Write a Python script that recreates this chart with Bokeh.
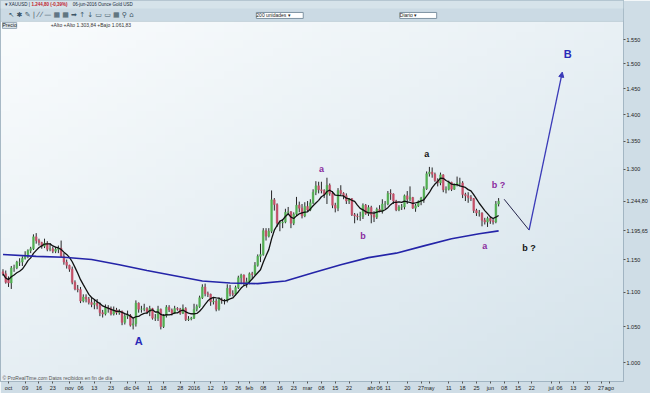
import math
import numpy as np
import pandas as pd
from bokeh.plotting import figure
from bokeh.models import FixedTicker, Label, Arrow, NormalHead, Range1d, ColumnDataSource, BoxAnnotation
from bokeh.core.properties import value
from bokeh.embed import file_html
from bokeh.resources import INLINE

# ---------------- data (XAUUSD daily) ----------------
first_bar = "2015-09-29"
last_bar = "2016-06-06"

opens = [1131, 1128,
         1119, 1114, 1137, 1137, 1146, 1146, 1152, 1156, 1164, 1167,
         1186, 1180, 1177, 1171, 1176, 1166, 1167, 1163, 1166, 1168,
         1155, 1146, 1141, 1135, 1115, 1105, 1104, 1087, 1093, 1090,
         1085, 1082, 1084, 1080, 1070, 1068, 1077, 1076, 1068, 1074,
         1070, 1072, 1056, 1065, 1066, 1052, 1054, 1084, 1075, 1075,
         1076, 1071, 1076, 1062, 1062, 1075, 1050, 1066, 1078, 1074,
         1069, 1076, 1075, 1069, 1076, 1060, 1061, 1062, 1075, 1079,
         1092, 1108, 1098, 1097, 1086, 1087, 1075, 1089, 1088, 1088,
         1106, 1098, 1097, 1107, 1122, 1126, 1114, 1116, 1128, 1127,
         1141, 1155, 1158, 1196, 1187, 1195, 1247, 1239, 1208, 1209,
         1210, 1226, 1227, 1208, 1223, 1238, 1233, 1220, 1236, 1230,
         1242, 1260, 1271, 1264, 1263, 1256, 1272, 1258, 1238, 1233,
         1263, 1258, 1254, 1245, 1249, 1222, 1220, 1219, 1219, 1238,
         1224, 1234, 1222, 1218, 1231, 1228, 1240, 1240, 1258, 1257,
         1245, 1230, 1235, 1235, 1254, 1248, 1251, 1233, 1237, 1244,
         1250, 1266, 1292, 1295, 1291, 1280, 1276, 1290, 1264, 1265,
         1277, 1265, 1273, 1276, 1276, 1256, 1254, 1251, 1249, 1229,
         1225, 1225, 1213, 1210, 1216, 1212, 1210, 1240]

highs = [1135, 1133,
         1124, 1140, 1142, 1148, 1152, 1155, 1163, 1166, 1170, 1190,
         1192, 1183, 1178, 1183, 1179, 1176, 1170, 1170, 1172, 1180,
         1160, 1150, 1142, 1139, 1118, 1111, 1108, 1097, 1097, 1093,
         1092, 1089, 1090, 1085, 1074, 1082, 1081, 1079, 1079, 1077,
         1075, 1073, 1068, 1073, 1068, 1062, 1088, 1085, 1080, 1083,
         1078, 1080, 1077, 1068, 1080, 1076, 1068, 1081, 1081, 1076,
         1080, 1078, 1077, 1082, 1078, 1065, 1064, 1083, 1082, 1095,
         1112, 1113, 1101, 1098, 1093, 1090, 1092, 1092, 1090, 1112,
         1111, 1103, 1110, 1125, 1128, 1127, 1122, 1130, 1131, 1146,
         1158, 1175, 1200, 1200, 1200, 1263, 1250, 1241, 1212, 1215,
         1232, 1235, 1228, 1226, 1252, 1244, 1240, 1243, 1245, 1248,
         1265, 1279, 1278, 1278, 1265, 1285, 1275, 1262, 1242, 1267,
         1272, 1260, 1258, 1250, 1250, 1225, 1224, 1227, 1241, 1240,
         1238, 1237, 1228, 1234, 1238, 1248, 1245, 1262, 1265, 1258,
         1247, 1238, 1240, 1256, 1262, 1270, 1252, 1240, 1246, 1252,
         1270, 1296, 1304, 1303, 1294, 1284, 1294, 1291, 1270, 1280,
         1278, 1275, 1287, 1285, 1279, 1259, 1260, 1255, 1250, 1232,
         1230, 1226, 1217, 1219, 1218, 1216, 1245, 1250]

lows = [1125, 1113,
        1108, 1105, 1131, 1135, 1140, 1140, 1150, 1152, 1160, 1165,
        1175, 1172, 1167, 1168, 1163, 1163, 1160, 1160, 1160, 1154,
        1142, 1136, 1131, 1112, 1103, 1100, 1084, 1085, 1085, 1082,
        1078, 1075, 1075, 1065, 1063, 1066, 1070, 1066, 1066, 1067,
        1067, 1052, 1053, 1061, 1050, 1046, 1050, 1070, 1070, 1072,
        1068, 1065, 1060, 1058, 1058, 1046, 1048, 1063, 1071, 1066,
        1068, 1073, 1067, 1068, 1058, 1058, 1059, 1061, 1072, 1077,
        1090, 1094, 1093, 1080, 1082, 1072, 1073, 1083, 1082, 1085,
        1094, 1094, 1095, 1105, 1112, 1110, 1107, 1112, 1120, 1125,
        1139, 1146, 1156, 1180, 1185, 1192, 1229, 1202, 1195, 1200,
        1208, 1222, 1200, 1205, 1220, 1226, 1216, 1218, 1227, 1228,
        1240, 1255, 1258, 1258, 1250, 1240, 1254, 1233, 1226, 1228,
        1255, 1248, 1240, 1240, 1220, 1208, 1213, 1212, 1215, 1222,
        1220, 1208, 1210, 1215, 1226, 1224, 1232, 1238, 1247, 1240,
        1228, 1228, 1230, 1231, 1240, 1245, 1232, 1227, 1235, 1238,
        1242, 1264, 1287, 1285, 1278, 1270, 1272, 1260, 1258, 1263,
        1262, 1264, 1270, 1270, 1250, 1245, 1242, 1245, 1225, 1220,
        1219, 1203, 1206, 1202, 1207, 1206, 1208, 1236]

closes = [1128, 1115,
          1114, 1137, 1137, 1146, 1146, 1152, 1156, 1164, 1167, 1186,
          1180, 1177, 1171, 1176, 1166, 1167, 1163, 1166, 1168, 1155,
          1146, 1141, 1135, 1115, 1105, 1104, 1087, 1093, 1090, 1085,
          1082, 1084, 1080, 1070, 1068, 1077, 1076, 1068, 1074, 1070,
          1072, 1056, 1065, 1066, 1052, 1054, 1084, 1075, 1075, 1076,
          1071, 1076, 1062, 1062, 1075, 1050, 1066, 1078, 1074, 1069,
          1076, 1075, 1069, 1076, 1060, 1061, 1062, 1075, 1079, 1092,
          1108, 1098, 1097, 1086, 1087, 1075, 1089, 1088, 1088, 1106,
          1098, 1097, 1107, 1122, 1126, 1114, 1116, 1128, 1127, 1141,
          1155, 1158, 1196, 1187, 1195, 1247, 1239, 1208, 1209, 1210,
          1226, 1227, 1208, 1223, 1238, 1233, 1220, 1236, 1230, 1242,
          1260, 1271, 1264, 1263, 1256, 1272, 1258, 1238, 1233, 1263,
          1258, 1254, 1245, 1249, 1222, 1220, 1219, 1219, 1238, 1224,
          1234, 1222, 1218, 1231, 1228, 1240, 1240, 1258, 1257, 1245,
          1230, 1235, 1235, 1254, 1248, 1251, 1233, 1237, 1244, 1250,
          1266, 1292, 1295, 1291, 1280, 1276, 1290, 1264, 1265, 1277,
          1265, 1273, 1276, 1276, 1256, 1254, 1251, 1249, 1229, 1225,
          1225, 1213, 1210, 1216, 1212, 1210, 1240, 1244.8]

# long moving average (blue), read at sample dates
ma_long_dates = ["2015-09-29", "2015-10-15", "2015-10-29", "2015-11-12", "2015-11-26",
                 "2015-12-10", "2015-12-24", "2016-01-07", "2016-01-21", "2016-02-04",
                 "2016-02-18", "2016-03-03", "2016-03-17", "2016-03-31", "2016-04-14",
                 "2016-04-28", "2016-05-12", "2016-05-26", "2016-06-06"]
ma_long_values = [1158, 1155, 1153.5, 1150, 1142, 1133, 1125, 1117, 1114, 1113,
                  1117, 1129.5, 1142, 1153, 1160, 1171.5, 1183, 1191, 1195.65]
ma_short_period = 7

# projected wave drawn by the author
wave_dates = ["2016-06-08", "2016-06-21", "2016-07-07"]
wave_prices = [1248, 1197, 1483]

# wave labels
wave_labels = ["A", "a", "b", "a", "a", "b ?", "b ?", "B"]
wave_label_dates = ["2015-12-07", "2016-03-08", "2016-03-29", "2016-04-29",
                    "2016-05-30", "2016-06-06", "2016-06-21", "2016-07-11"]
wave_label_prices = [1029, 1300, 1187, 1327, 1171, 1272, 1168, 1519]
wave_label_colors = ["#2a2ab8", "#8a2a9e", "#8a2a9e", "#111111",
                     "#8a2a9e", "#8a2a9e", "#111111", "#2a2ab8"]
wave_label_sizes = ["11px", "9px", "9px", "9px", "9px", "9px", "9px", "11px"]

# axis ticks
tick_dates = ["2015-10-01", "2015-10-09", "2015-10-16", "2015-10-23", "2015-11-02",
              "2015-11-06", "2015-11-13", "2015-11-23", "2015-12-01", "2015-12-04",
              "2015-12-11", "2015-12-18", "2015-12-28", "2016-01-04", "2016-01-12",
              "2016-01-19", "2016-01-26", "2016-02-01", "2016-02-08", "2016-02-16",
              "2016-02-23", "2016-03-01", "2016-03-08", "2016-03-15", "2016-03-22",
              "2016-04-01", "2016-04-06", "2016-04-11", "2016-04-20", "2016-04-27",
              "2016-05-02", "2016-05-11", "2016-05-18", "2016-05-25", "2016-06-01",
              "2016-06-08", "2016-06-15", "2016-06-22", "2016-07-01", "2016-07-06",
              "2016-07-13", "2016-07-20", "2016-07-27", "2016-08-01"]
tick_labels = ["oct", "09", "16", "23", "nov", "06", "13", "23", "dic", "04",
               "11", "18", "28", "2016", "12", "19", "26", "feb", "08", "16",
               "23", "mar", "08", "15", "22", "abr", "06", "11", "20", "27",
               "may", "11", "18", "25", "jun", "08", "15", "22", "jul", "06",
               "13", "20", "27", "ago"]
price_ticks = [1000, 1050, 1100, 1150, 1300, 1350, 1400, 1450, 1500, 1550]
last_price = 1244.80
last_ma_long = 1195.65

# ---------------- build ----------------
cal = pd.bdate_range("2015-09-25", "2016-08-31")
pos = {d.strftime("%Y-%m-%d"): i for i, d in enumerate(cal)}
bars = [d.strftime("%Y-%m-%d") for d in pd.bdate_range(first_bar, last_bar)]
xs = [pos[d] for d in bars]

UP, DOWN = "#52b052", "#c64f68"
colors = [UP if c >= o else DOWN for o, c in zip(opens, closes)]
src = ColumnDataSource(dict(x=xs, o=opens, h=highs, l=lows, c=closes, col=colors,
                            top=[max(o, c) for o, c in zip(opens, closes)],
                            bot=[min(o, c) for o, c in zip(opens, closes)]))

FONT = "Liberation Sans"
DX = 2.76
FRAME_W = 621
X0 = pos["2015-10-01"] - 8 / DX
X1 = X0 + FRAME_W / DX
Y_TOP = 1000 * math.exp(363 / 739)
Y_BOT = 1000 * math.exp(-19 / 739)

def py(ypix):
    return 1000 * math.exp((363 - ypix) / 739)

def px(xpix):
    return X0 + xpix / DX

p = figure(width=650, height=393, y_axis_type="log", y_axis_location="right",
           x_range=Range1d(X0, X1), y_range=Range1d(Y_BOT, Y_TOP),
           output_backend="svg", toolbar_location=None,
           min_border_left=0, min_border_right=23, min_border_top=0, min_border_bottom=11)
p.background_fill_color = "#eef4f7"
p.border_fill_color = "#cfdde6"
p.outline_line_color = "#8ea4b4"
p.grid.grid_line_color = None

# soft background gradient of the chart pane
GH, GW = 48, 64
img = np.empty((GH, GW), dtype=np.uint32)
view = img.view(dtype=np.uint8).reshape((GH, GW, 4))
c_tl = np.array([251, 253, 254])
c_br = np.array([213, 227, 235])
for j in range(GH):
    v = 1 - j / (GH - 1)
    for i in range(GW):
        u = i / (GW - 1)
        t = 0.45 * u + 0.55 * v
        view[j, i, :3] = (c_tl + (c_br - c_tl) * t).astype(np.uint8)
        view[j, i, 3] = 255
p.image_rgba(image=[img], x=X0, y=Y_BOT, dw=X1 - X0, dh=Y_TOP - Y_BOT)

# candles
p.segment(x0="x", y0="h", x1="x", y1="l", source=src, line_color="#262626", line_width=1)
p.vbar(x="x", width=0.62, top="top", bottom="bot", source=src,
       fill_color="col", line_color="col", line_width=0.5)

# short MA (black)
ma_short = pd.Series(closes).rolling(ma_short_period, min_periods=1).mean().tolist()
p.line(xs, ma_short, line_color="#111111", line_width=1.3)

# long MA (blue)
p.line([pos[d] for d in ma_long_dates], ma_long_values, line_color="#2424a8", line_width=1.6)

# projection
wx = [pos[d] for d in wave_dates]
p.line(wx[:2], wave_prices[:2], line_color="#23234a", line_width=1)
p.add_layout(Arrow(x_start=wx[1], y_start=wave_prices[1], x_end=wx[2], y_end=wave_prices[2],
                   line_color="#3a3ab8", line_width=1.3,
                   end=NormalHead(size=5, fill_color="#3a3ab8", line_color="#3a3ab8")))

# wave labels
lsrc = ColumnDataSource(dict(x=[pos[d] for d in wave_label_dates], y=wave_label_prices,
                             t=wave_labels, c=wave_label_colors, s=wave_label_sizes))
p.text(x="x", y="y", text="t", text_color="c", text_font_size="s", source=lsrc,
       text_font=value(FONT), text_font_style="bold", text_align="center", text_baseline="middle")

# axes
p.xaxis.ticker = FixedTicker(ticks=[pos[d] for d in tick_dates])
p.xaxis.major_label_overrides = {pos[d]: lab for d, lab in zip(tick_dates, tick_labels)}
yticks = sorted(price_ticks + [last_ma_long, last_price])
p.yaxis.ticker = FixedTicker(ticks=yticks)
ylabels = {v: f"{v:,}".replace(",", ".") for v in price_ticks}
ylabels[last_price] = "1.244,80"
ylabels[last_ma_long] = "1.195,65"
p.yaxis.major_label_overrides = ylabels
for ax in (p.xaxis[0], p.yaxis[0]):
    ax.axis_line_color = None
    ax.axis_label_standoff = 0
    ax.major_tick_in = 0
    ax.major_tick_out = 2
    ax.major_tick_line_color = "#555555"
    ax.minor_tick_line_color = None
    ax.major_label_standoff = 1
    ax.major_label_text_font = FONT
    ax.major_label_text_font_size = "5.5px"
    ax.major_label_text_color = "#222222"

# header strip (window title + toolbar)
p.add_layout(BoxAnnotation(bottom=py(21), fill_color="#cbdae4", fill_alpha=1,
                           line_color="#8ea4b4", line_width=1))
p.add_layout(BoxAnnotation(bottom=py(8), fill_color="#d6e3ea", fill_alpha=1, line_color=None))
hdr = dict(text_font=FONT, text_baseline="middle")
p.add_layout(Label(x=px(4), y=py(4), text="▾ XAUUSD  |", text_font_size="4.5px", text_color="#1a2a3a", **hdr))
p.add_layout(Label(x=px(31), y=py(4), text="1.244,80 (-0,39%)", text_font_size="4.5px",
                   text_font_style="bold", text_color="#c0202a", **hdr))
p.add_layout(Label(x=px(72), y=py(4), text="06-jun-2016  Ounce Gold USD", text_font_size="4.5px",
                   text_color="#1a2a3a", **hdr))
p.add_layout(Label(x=px(8), y=py(15), text="↖ ✱ ✎ | ⁄ ⁄ — ▦ ▦ ➡ ↑ ↓ ▭ ▭ ▦ ⚲ ⌂",
                   text_font="DejaVu Sans", text_font_size="7px", text_color="#3d5566",
                   text_baseline="middle"))
p.add_layout(Label(x=px(255), y=py(15), text="200 unidades          ▾", text_font_size="5px",
                   text_color="#222222", background_fill_color="#ffffff",
                   border_line_color="#7f93a3", **hdr))
p.add_layout(Label(x=px(398), y=py(15), text="Diario               ▾", text_font_size="5px",
                   text_color="#222222", background_fill_color="#ffffff",
                   border_line_color="#7f93a3", **hdr))
p.add_layout(Label(x=px(2), y=py(25), text="Precio", text_font_size="5px",
                   text_color="#222222", background_fill_color="#dde6ec",
                   border_line_color="#9aabb8", **hdr))
p.add_layout(Label(x=px(50), y=py(25), text="+Alto  +Alto 1.303,84  +Bajo 1.061,83",
                   text_font_size="5px", text_color="#333333", **hdr))
p.add_layout(Label(x=px(2), y=py(378), text="© ProRealTime.com  Datos recibidos en fin de día",
                   text_font_size="5px", text_color="#555555", **hdr))

open("out.html", "w").write(file_html(p, INLINE))
